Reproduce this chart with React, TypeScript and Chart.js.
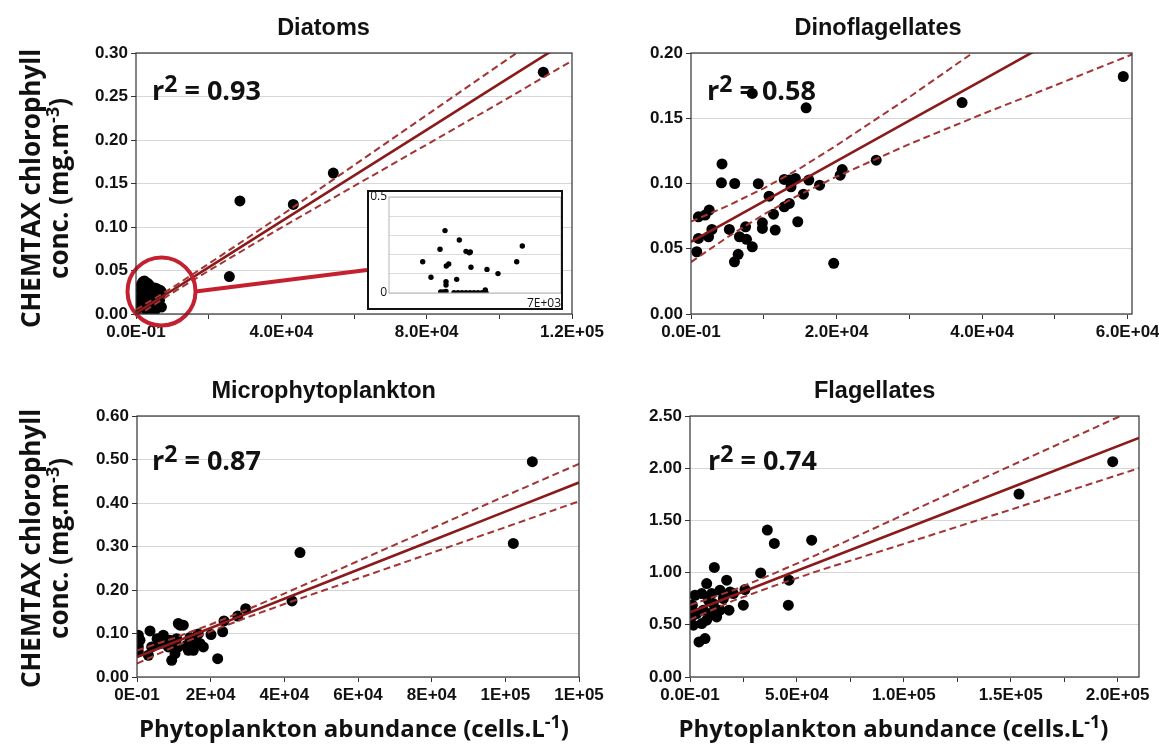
import React, { useEffect, useRef } from "react";
import { Chart, registerables } from "chart.js";

Chart.register(...registerables);

// ---------------- Diatoms ----------------
const diatomsX = [112100, 54300, 43300, 28600, 25700, 200, 500, 800, 1200, 1500, 1900, 2300, 2800, 3300, 3700, 4200, 4700, 5200, 5700, 6200, 6700, 7000, 1300, 2000, 2600, 3000, 3500, 4000, 4500, 5000, 5500, 6000, 6500, 7000, 3000, 1800, 5200];
const diatomsY = [0.278, 0.162, 0.126, 0.13, 0.043, 0.003, 0.01, 0.018, 0.028, 0.034, 0.037, 0.038, 0.036, 0.035, 0.033, 0.03, 0.029, 0.03, 0.029, 0.028, 0.027, 0.025, 0.015, 0.022, 0.012, 0.025, 0.018, 0.008, 0.02, 0.012, 0.018, 0.01, 0.016, 0.008, 0.004, 0.006, 0.004];
const diatomsFitX = [0, 10000, 20000, 40000, 60000, 80000, 100000, 120000];
const diatomsFit = [0.001, 0.0273, 0.0537, 0.1064, 0.159, 0.2117, 0.2644, 0.3171];
const diatomsUpper = [0.005, 0.0303, 0.0577, 0.1134, 0.171, 0.2287, 0.2864, 0.3431];
const diatomsLower = [-0.003, 0.0243, 0.0497, 0.0994, 0.147, 0.1947, 0.2424, 0.2911];
const diatomsXTicks = [0, 20000, 40000, 60000, 80000, 100000, 120000];
const diatomsXTickLabels = ["0.0E-01", "", "4.0E+04", "", "8.0E+04", "", "1.2E+05"];
const diatomsYTicks = [0, 0.05, 0.1, 0.15, 0.2, 0.25, 0.3];
const diatomsYTickLabels = ["0.00", "0.05", "0.10", "0.15", "0.20", "0.25", "0.30"];

// inset of the Diatoms panel
const insetX = [1372, 1709, 2076, 2279, 2332, 2430, 2320, 2320, 2104, 2211, 2320, 2755, 2861, 3134, 3268, 3309, 3337, 3988, 4436, 5197, 5425, 2645, 2808, 2971, 3134, 3297, 3459, 3622, 3785, 3948, 3919];
const insetY = [0.163, 0.082, 0.228, 0.325, 0.141, 0.151, 0.059, 0.042, 0.005, 0.005, 0.008, 0.071, 0.276, 0.217, 0.21, 0.214, 0.134, 0.123, 0.101, 0.163, 0.245, 0.002, 0.002, 0.002, 0.002, 0.002, 0.002, 0.002, 0.002, 0.002, 0.016];
const insetXTicks = [0, 7000];
const insetXTickLabels = ["", "7E+03"];
const insetYTicks = [0, 0.1, 0.2, 0.3, 0.4, 0.5];
const insetYTickLabels = ["0", "", "", "", "", "0.5"];

// ---------------- Dinoflagellates ----------------
const dinoX = [59400, 37250, 15820, 8420, 4260, 4180, 6010, 9250, 10730, 11340, 11570, 9810, 9810, 7500, 8420, 7630, 6660, 5270, 6480, 5970, 790, 1020, 2410, 2870, 1020, 1940, 2500, 12810, 13510, 14340, 13740, 13510, 12810, 14670, 15450, 16190, 17670, 19610, 20500, 20780, 25450];
const dinoY = [0.182, 0.162, 0.158, 0.169, 0.115, 0.1005, 0.1, 0.0999, 0.0903, 0.0765, 0.0643, 0.0656, 0.0699, 0.0668, 0.0515, 0.0572, 0.0592, 0.0648, 0.0457, 0.04, 0.0477, 0.0579, 0.0592, 0.0648, 0.0745, 0.0758, 0.0796, 0.1031, 0.1026, 0.1039, 0.0975, 0.0847, 0.0821, 0.0707, 0.0918, 0.1026, 0.0987, 0.0388, 0.1064, 0.1107, 0.1179];
const dinoFitX = [0, 5000, 10000, 15000, 20000, 30000, 40000, 50000, 60600];
const dinoFit = [0.0553, 0.0708, 0.0863, 0.1017, 0.1172, 0.1482, 0.1791, 0.2101, 0.2429];
const dinoUpper = [0.0708, 0.0828, 0.0963, 0.1117, 0.1292, 0.1662, 0.2051, 0.2451, 0.2869];
const dinoLower = [0.0398, 0.0588, 0.0763, 0.0917, 0.1052, 0.1302, 0.1531, 0.1751, 0.1989];
const dinoXTicks = [0, 10000, 20000, 30000, 40000, 50000, 60000];
const dinoXTickLabels = ["0.0E-01", "", "2.0E+04", "", "4.0E+04", "", "6.0E+04"];
const dinoYTicks = [0, 0.05, 0.1, 0.15, 0.2];
const dinoYTickLabels = ["0.00", "0.05", "0.10", "0.15", "0.20"];

// ---------------- Microphytoplankton ----------------
const microX = [107330, 102170, 44250, 42080, 29510, 27330, 23620, 23260, 21900, 20090, 18010, 16640, 15290, 15650, 11670, 11220, 12580, 9420, 10320, 11220, 8960, 7150, 3530, 3980, 3080, 360, 360, 810, 6250, 13480, 14390, 17100, 13930, 8510, 10770, 360, 5460];
const microY = [0.495, 0.307, 0.286, 0.175, 0.157, 0.14, 0.129, 0.104, 0.042, 0.0975, 0.069, 0.099, 0.0614, 0.0845, 0.119, 0.123, 0.119, 0.0384, 0.0537, 0.069, 0.0845, 0.096, 0.106, 0.069, 0.05, 0.096, 0.069, 0.0845, 0.077, 0.073, 0.091, 0.077, 0.0614, 0.069, 0.088, 0.058, 0.088];
const microFitX = [0, 10000, 20000, 30000, 40000, 60000, 80000, 100000, 120000];
const microFit = [0.046, 0.0794, 0.1128, 0.1463, 0.1797, 0.2465, 0.3133, 0.3802, 0.447];
const microUpper = [0.061, 0.0894, 0.1208, 0.1553, 0.1917, 0.2665, 0.3413, 0.4162, 0.49];
const microLower = [0.031, 0.0694, 0.1048, 0.1373, 0.1677, 0.2265, 0.2853, 0.3442, 0.404];
const microXTicks = [0, 20000, 40000, 60000, 80000, 100000, 120000];
const microXTickLabels = ["0E-01", "2E+04", "4E+04", "6E+04", "8E+04", "1E+05", "1E+05"];
const microYTicks = [0, 0.1, 0.2, 0.3, 0.4, 0.5, 0.6];
const microYTickLabels = ["0.00", "0.10", "0.20", "0.30", "0.40", "0.50", "0.60"];

// ---------------- Flagellates ----------------
const flagX = [197690, 153870, 56900, 36170, 39440, 33060, 46300, 45990, 24940, 25720, 11380, 17150, 7800, 14030, 18710, 18240, 12470, 14030, 7800, 5460, 7020, 4210, 1560, 1090, 2340, 5460, 8580, 10910, 6240, 3120, 1560, 15590, 20270, 10130, 9350, 11690];
const flagY = [2.062, 1.752, 1.311, 1.407, 1.279, 0.997, 0.927, 0.688, 0.688, 0.838, 1.049, 0.927, 0.895, 0.831, 0.815, 0.64, 0.575, 0.64, 0.544, 0.512, 0.368, 0.336, 0.496, 0.688, 0.783, 0.799, 0.735, 0.703, 0.64, 0.608, 0.592, 0.752, 0.799, 0.799, 0.608, 0.64];
const flagFitX = [0, 20000, 40000, 60000, 100000, 150000, 210000];
const flagFit = [0.62, 0.779, 0.938, 1.097, 1.415, 1.813, 2.29];
const flagUpper = [0.69, 0.829, 0.998, 1.177, 1.555, 2.023, 2.58];
const flagLower = [0.55, 0.729, 0.878, 1.017, 1.275, 1.603, 2.0];
const flagXTicks = [0, 25000, 50000, 75000, 100000, 125000, 150000, 175000, 200000];
const flagXTickLabels = ["0.0E-01", "", "5.0E+04", "", "1.0E+05", "", "1.5E+05", "", "2.0E+05"];
const flagYTicks = [0, 0.5, 1, 1.5, 2, 2.5];
const flagYTickLabels = ["0.00", "0.50", "1.00", "1.50", "2.00", "2.50"];

// ---------------- styles ----------------
const FIT_COLOR = "#8b1a1a";
const BAND_COLOR = "#a33434";
const SANS = "'Open Sans', 'Noto Sans', sans-serif";
const ARIAL = "'Liberation Sans', Arial, sans-serif";
const TICK_FONT = { family: ARIAL, size: 17, weight: "bold" as const };
const TITLE_FONT = { family: ARIAL, size: 23.5, weight: "bold" as const };

type Seg = { t: string; size: number; rise?: number };

function drawRich(ctx: CanvasRenderingContext2D, segs: Seg[], x: number, y: number, align: "left" | "center", weight = "bold") {
  ctx.textAlign = "left";
  ctx.textBaseline = "alphabetic";
  const widths = segs.map((s) => {
    ctx.font = `${weight} ${s.size}px ${SANS}`;
    return ctx.measureText(s.t).width;
  });
  const total = widths.reduce((a, b) => a + b, 0);
  let cx = align === "center" ? x - total / 2 : x;
  segs.forEach((s, i) => {
    ctx.font = `${weight} ${s.size}px ${SANS}`;
    ctx.fillText(s.t, cx, y - (s.rise || 0));
    cx += widths[i];
  });
}

const framePlugin = {
  id: "frame",
  afterDraw(chart: any) {
    const { ctx, chartArea: a } = chart;
    ctx.save();
    ctx.strokeStyle = "#333";
    ctx.lineWidth = 1.2;
    ctx.strokeRect(a.left, a.top, a.right - a.left, a.bottom - a.top);
    ctx.restore();
  },
};

function r2Plugin(value: string, ox: number, oy: number) {
  return {
    id: "r2",
    beforeDatasetsDraw(chart: any) {
      const { ctx, chartArea: a } = chart;
      ctx.save();
      ctx.fillStyle = "#111";
      drawRich(ctx, [
        { t: "r", size: 27 },
        { t: "2", size: 23, rise: 8 },
        { t: " = " + value, size: 27 },
      ], a.left + ox, a.top + oy, "left");
      ctx.restore();
    },
  };
}

function yTitlePlugin(dy: number) {
  return {
    id: "ytitle",
    afterDraw(chart: any) {
      const { ctx, chartArea: a } = chart;
      const cy = (a.top + a.bottom) / 2 + dy;
      ctx.save();
      ctx.fillStyle = "#111";
      ctx.translate(0, cy);
      ctx.rotate(-Math.PI / 2);
      drawRich(ctx, [{ t: "CHEMTAX chlorophyll", size: 26 }], 0, 40, "center");
      drawRich(ctx, [
        { t: "conc. (mg.m", size: 26 },
        { t: "-3", size: 18, rise: 9 },
        { t: ")", size: 26 },
      ], 0, 68, "center");
      ctx.restore();
    },
  };
}

function xTitlePlugin(dx: number) {
  return {
    id: "xtitle",
    afterDraw(chart: any) {
      const { ctx, chartArea: a } = chart;
      ctx.save();
      ctx.fillStyle = "#111";
      drawRich(ctx, [
        { t: "Phytoplankton abundance (cells.L", size: 24 },
        { t: "-1", size: 18, rise: 9 },
        { t: ")", size: 24 },
      ], (a.left + a.right) / 2 + dx, chart.height - 9, "center");
      ctx.restore();
    },
  };
}

// red circle around the dense cluster and its link to the inset (data coordinates)
const circleCenter = { x: 7020, y: 0.0259 };
const linkEnd = { x: 63570, y: 0.0506 };
const zoomPlugin = {
  id: "zoomMark",
  afterDatasetsDraw(chart: any) {
    const { ctx } = chart;
    const xs = chart.scales.x;
    const ys = chart.scales.y;
    const cx = xs.getPixelForValue(circleCenter.x);
    const cy = ys.getPixelForValue(circleCenter.y);
    const r = 34;
    ctx.save();
    ctx.strokeStyle = "#c4202f";
    ctx.lineWidth = 4;
    ctx.beginPath();
    ctx.arc(cx, cy, r, 0, Math.PI * 2);
    ctx.stroke();
    ctx.beginPath();
    ctx.moveTo(cx + r, cy);
    ctx.lineTo(xs.getPixelForValue(linkEnd.x), ys.getPixelForValue(linkEnd.y));
    ctx.stroke();
    ctx.restore();
  },
};

type Panel = {
  title: string;
  xs: number[]; ys: number[];
  fitX: number[]; fit: number[]; upper: number[]; lower: number[];
  xMax: number; yMax: number;
  xTicks: number[]; xTickLabels: string[];
  yTicks: number[]; yTickLabels: string[];
  pad: { left: number; right: number; top: number; bottom: number };
  yAxisW: number; xAxisH: number;
  titlePad: { top: number; bottom: number };
  extra: any[];
};

function zeroPad(s: any) {
  s.paddingLeft = 0; s.paddingRight = 0; s.paddingTop = 0; s.paddingBottom = 0;
}

function panelConfig(p: Panel): any {
  const pts = p.xs.map((x, i) => ({ x, y: p.ys[i] }));
  const line = (vals: number[]) => p.fitX.map((x, i) => ({ x, y: vals[i] }));
  const lineDs = (vals: number[], w: number, color: string, dash: number[], order: number) => ({
    data: line(vals), showLine: true, fill: false, tension: 0,
    borderColor: color, borderWidth: w, borderDash: dash,
    pointRadius: 0, order,
  });
  return {
    type: "scatter",
    data: {
      datasets: [
        lineDs(p.fit, 2.6, FIT_COLOR, [], 0),
        lineDs(p.upper, 2, BAND_COLOR, [7, 4], 1),
        lineDs(p.lower, 2, BAND_COLOR, [7, 4], 2),
        { data: pts, pointRadius: 5.5, pointBackgroundColor: "#000", pointBorderWidth: 0, order: 3 },
      ],
    },
    options: {
      responsive: false,
      animation: false,
      devicePixelRatio: 1,
      events: [],
      layout: { autoPadding: false, padding: p.pad },
      plugins: {
        legend: { display: false },
        tooltip: { enabled: false },
        title: { display: true, text: p.title, font: TITLE_FONT, color: "#111", padding: p.titlePad },
      },
      scales: {
        x: {
          type: "linear", position: "bottom", min: 0, max: p.xMax,
          afterBuildTicks: (s: any) => { s.ticks = p.xTicks.map((v) => ({ value: v })); },
          afterFit: (s: any) => { s.height = p.xAxisH; zeroPad(s); },
          grid: { drawOnChartArea: false, drawTicks: true, tickLength: 5, tickColor: "#333" },
          border: { display: false },
          ticks: {
            autoSkip: false, maxRotation: 0, minRotation: 0, padding: 3,
            color: "#111", font: TICK_FONT,
            callback: (_v: any, i: number) => p.xTickLabels[i] ?? "",
          },
        },
        y: {
          type: "linear", min: 0, max: p.yMax,
          afterBuildTicks: (s: any) => { s.ticks = p.yTicks.map((v) => ({ value: v })); },
          afterFit: (s: any) => { s.width = p.yAxisW; zeroPad(s); },
          grid: { color: "#d6d6d6", lineWidth: 1, drawTicks: true, tickLength: 5, tickColor: "#333" },
          border: { display: false },
          ticks: {
            padding: 3, color: "#111", font: TICK_FONT,
            callback: (_v: any, i: number) => p.yTickLabels[i] ?? "",
          },
        },
      },
    },
    plugins: [framePlugin, ...p.extra],
  };
}

const INSET_FONT = { family: SANS, size: 12 };

function insetConfig(): any {
  const pts = insetX.map((x, i) => ({ x, y: insetY[i] }));
  return {
    type: "scatter",
    data: { datasets: [{ data: pts, pointRadius: 2.7, pointBackgroundColor: "#000", pointBorderWidth: 0 }] },
    options: {
      responsive: false,
      animation: false,
      devicePixelRatio: 1,
      events: [],
      layout: { autoPadding: false, padding: { left: 0, right: 2, top: 7, bottom: 0 } },
      plugins: { legend: { display: false }, tooltip: { enabled: false } },
      scales: {
        x: {
          type: "linear", min: 0, max: 7000,
          afterBuildTicks: (s: any) => { s.ticks = insetXTicks.map((v) => ({ value: v })); },
          afterFit: (s: any) => { s.height = 17; zeroPad(s); },
          grid: { display: false, drawTicks: false },
          border: { display: false },
          ticks: {
            align: "end", padding: 3, autoSkip: false, maxRotation: 0, minRotation: 0,
            color: "#111", font: INSET_FONT,
            callback: (_v: any, i: number) => insetXTickLabels[i] ?? "",
          },
        },
        y: {
          type: "linear", min: 0, max: 0.5,
          afterBuildTicks: (s: any) => { s.ticks = insetYTicks.map((v) => ({ value: v })); },
          afterFit: (s: any) => { s.width = 22; zeroPad(s); },
          grid: { color: "#dcdcdc", drawTicks: false },
          border: { display: false },
          ticks: {
            padding: 2, color: "#111", font: INSET_FONT,
            callback: (_v: any, i: number) => insetYTickLabels[i] ?? "",
          },
        },
      },
    },
    plugins: [
      {
        id: "insetBg",
        beforeDraw(chart: any) {
          const { ctx } = chart;
          ctx.save();
          ctx.fillStyle = "#fff";
          ctx.fillRect(0, 0, chart.width, chart.height);
          ctx.restore();
        },
        afterDraw(chart: any) {
          const { ctx, chartArea: a } = chart;
          ctx.save();
          ctx.strokeStyle = "#b5b5b5";
          ctx.lineWidth = 1;
          ctx.strokeRect(a.left, a.top, a.right - a.left, a.bottom - a.top);
          ctx.strokeStyle = "#111";
          ctx.lineWidth = 2;
          ctx.strokeRect(1, 1, chart.width - 2, chart.height - 2);
          ctx.restore();
        },
      },
    ],
  };
}

const panels: { spec: Panel; box: { left: number; top: number; w: number; h: number } }[] = [
  {
    box: { left: 0, top: 0, w: 620, h: 365 },
    spec: {
      title: "Diatoms", xs: diatomsX, ys: diatomsY,
      fitX: diatomsFitX, fit: diatomsFit, upper: diatomsUpper, lower: diatomsLower,
      xMax: 120000, yMax: 0.3,
      xTicks: diatomsXTicks, xTickLabels: diatomsXTickLabels,
      yTicks: diatomsYTicks, yTickLabels: diatomsYTickLabels,
      pad: { left: 75, right: 48, top: 0, bottom: 0 }, yAxisW: 61, xAxisH: 51,
      titlePad: { top: 14.9, bottom: 9.9 },
      extra: [r2Plugin("0.93", 16, 47), yTitlePlugin(5), zoomPlugin],
    },
  },
  {
    box: { left: 600, top: 0, w: 559, h: 365 },
    spec: {
      title: "Dinoflagellates", xs: dinoX, ys: dinoY,
      fitX: dinoFitX, fit: dinoFit, upper: dinoUpper, lower: dinoLower,
      xMax: 60600, yMax: 0.2,
      xTicks: dinoXTicks, xTickLabels: dinoXTickLabels,
      yTicks: dinoYTicks, yTickLabels: dinoYTickLabels,
      pad: { left: 24, right: 27, top: 0, bottom: 0 }, yAxisW: 67, xAxisH: 51,
      titlePad: { top: 14.9, bottom: 9.9 },
      extra: [r2Plugin("0.58", 16, 47)],
    },
  },
  {
    box: { left: 0, top: 365, w: 620, h: 381 },
    spec: {
      title: "Microphytoplankton", xs: microX, ys: microY,
      fitX: microFitX, fit: microFit, upper: microUpper, lower: microLower,
      xMax: 120000, yMax: 0.6,
      xTicks: microXTicks, xTickLabels: microXTickLabels,
      yTicks: microYTicks, yTickLabels: microYTickLabels,
      pad: { left: 68.4, right: 41, top: 0, bottom: 0 }, yAxisW: 68.6, xAxisH: 69,
      titlePad: { top: 12.9, bottom: 9.9 },
      extra: [r2Plugin("0.87", 15, 54), yTitlePlugin(2), xTitlePlugin(-4)],
    },
  },
  {
    box: { left: 600, top: 365, w: 559, h: 381 },
    spec: {
      title: "Flagellates", xs: flagX, ys: flagY,
      fitX: flagFitX, fit: flagFit, upper: flagUpper, lower: flagLower,
      xMax: 210000, yMax: 2.5,
      xTicks: flagXTicks, xTickLabels: flagXTickLabels,
      yTicks: flagYTicks, yTickLabels: flagYTickLabels,
      pad: { left: 10.4, right: 20, top: 0, bottom: 0 }, yAxisW: 79.6, xAxisH: 69,
      titlePad: { top: 12.9, bottom: 9.9 },
      extra: [r2Plugin("0.74", 18, 54), xTitlePlugin(-21)],
    },
  },
];

const insetBox = { left: 367, top: 190, w: 196, h: 120 };

export default function App() {
  const refs = [useRef<HTMLCanvasElement>(null), useRef<HTMLCanvasElement>(null), useRef<HTMLCanvasElement>(null), useRef<HTMLCanvasElement>(null)];
  const insetRef = useRef<HTMLCanvasElement>(null);

  useEffect(() => {
    const charts: Chart[] = [];
    panels.forEach((p, i) => {
      const c = refs[i].current;
      if (c) charts.push(new Chart(c, panelConfig(p.spec)));
    });
    if (insetRef.current) charts.push(new Chart(insetRef.current, insetConfig()));
    return () => charts.forEach((c) => c.destroy());
  }, []);

  return (
    <div style={{ position: "absolute", left: 0, top: 0, width: 1159, height: 746, background: "#fff", overflow: "hidden" }}>
      {panels.map((p, i) => (
        <canvas
          key={i}
          ref={refs[i]}
          width={p.box.w}
          height={p.box.h}
          style={{ position: "absolute", left: p.box.left, top: p.box.top, width: p.box.w, height: p.box.h }}
        />
      ))}
      <canvas
        ref={insetRef}
        width={insetBox.w}
        height={insetBox.h}
        style={{ position: "absolute", left: insetBox.left, top: insetBox.top, width: insetBox.w, height: insetBox.h }}
      />
    </div>
  );
}
